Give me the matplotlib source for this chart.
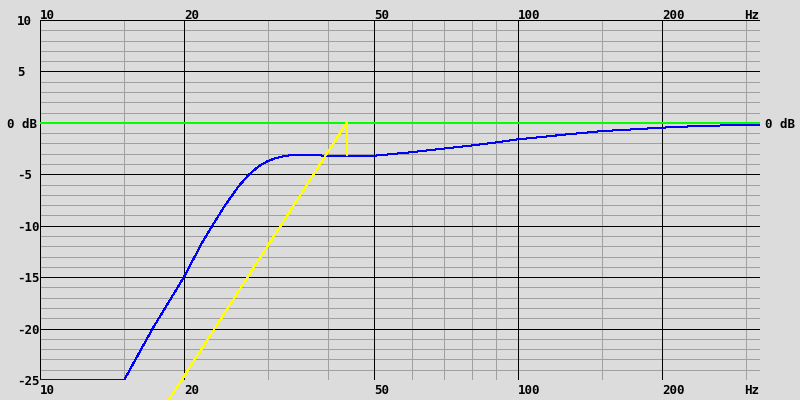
import matplotlib
matplotlib.use('Agg')
import matplotlib.pyplot as plt
import matplotlib.transforms as mtransforms

# frequency response values
freq = [10, 15, 17.2, 20, 21.8, 23.0, 24.4, 26.0, 27.3, 28.6, 29.8, 31.0, 32.3,
        33.3, 37, 40, 50, 60, 70, 80, 90, 100, 128, 150, 200, 232, 273, 321]
level = [-25, -25, -20, -15, -11.7, -9.9, -8.0, -6.2, -5.07, -4.26, -3.77, -3.45,
         -3.25, -3.15, -3.13, -3.2, -3.2, -2.85, -2.5, -2.2, -1.9, -1.6, -1.1,
         -0.8, -0.47, -0.33, -0.24, -0.2]

# yellow slope line with its drop to the curve
slope_freq = [18.6, 43.8, 43.8]
slope_level = [-26.94, 0, -3.15]

major_f = [10, 20, 50, 100, 200]
minor_f = [15, 30, 40, 60, 70, 80, 90, 150, 300]
x_labels = ['10', '20', '50', '100', '200']
y_ticks = [10, 5, 0, -5, -10, -15, -20, -25]
y_labels = ['10', '5', '0 dB', '-5', '-10', '-15', '-20', '-25']

bg = '#dcdcdc'
grey = '#a0a0a0'
px = 0.72  # one pixel at 100 dpi
font = dict(family='DejaVu Sans Mono', weight='bold', fontsize=9)

fig = plt.figure(figsize=(8, 4), dpi=100, facecolor=bg)
ax = fig.add_axes([0.05, 0.05, 0.9, 0.9], facecolor=bg)
ax.set_xscale('log')
ax.set_xlim(10, 320.8)
ax.set_ylim(-25, 10)
for s in ax.spines.values():
    s.set_visible(False)
ax.set_xticks([])
ax.set_yticks([])
ax.minorticks_off()

# grid
for f in minor_f:
    ax.axvline(f, color=grey, lw=px, zorder=1)
for d in range(-25, 11):
    if d % 5 != 0:
        ax.axhline(d, color=grey, lw=px, zorder=1)
for f in major_f:
    ax.axvline(f, color='black', lw=px, zorder=2)
for d in y_ticks:
    ax.axhline(d, color='black', lw=px, zorder=2)
ax.axhline(0, color='#00ff00', lw=2 * px, zorder=3)

ax.plot(freq, level, color='#0000ff', lw=px, zorder=4, antialiased=False)
ax.plot(slope_freq, slope_level, color='#ffff00', lw=px, zorder=5,
        antialiased=False, clip_on=False)

# labels
tr_y = mtransforms.blended_transform_factory(fig.transFigure, ax.transData)
for d, lab in zip(y_ticks, y_labels):
    x0 = 7 / 800 if lab == '0 dB' else 17 / 800
    fig.text(x0, d - 0.15, lab, transform=tr_y, ha='left', va='center', **font)
fig.text(765 / 800, -0.15, '0 dB', transform=tr_y, ha='left', va='center', **font)

tr_x = mtransforms.blended_transform_factory(ax.transData, fig.transFigure)
for f, lab in zip(major_f, x_labels):
    fig.text(f, 1 - 15.5 / 400, lab, transform=tr_x, ha='left', va='center', **font)
    fig.text(f, 1 - 390 / 400, lab, transform=tr_x, ha='left', va='center', **font)
fig.text(759 / 800, 1 - 15.5 / 400, 'Hz', ha='right', va='center', **font)
fig.text(759 / 800, 1 - 390 / 400, 'Hz', ha='right', va='center', **font)

plt.savefig('out.png', dpi=100, facecolor=bg)
